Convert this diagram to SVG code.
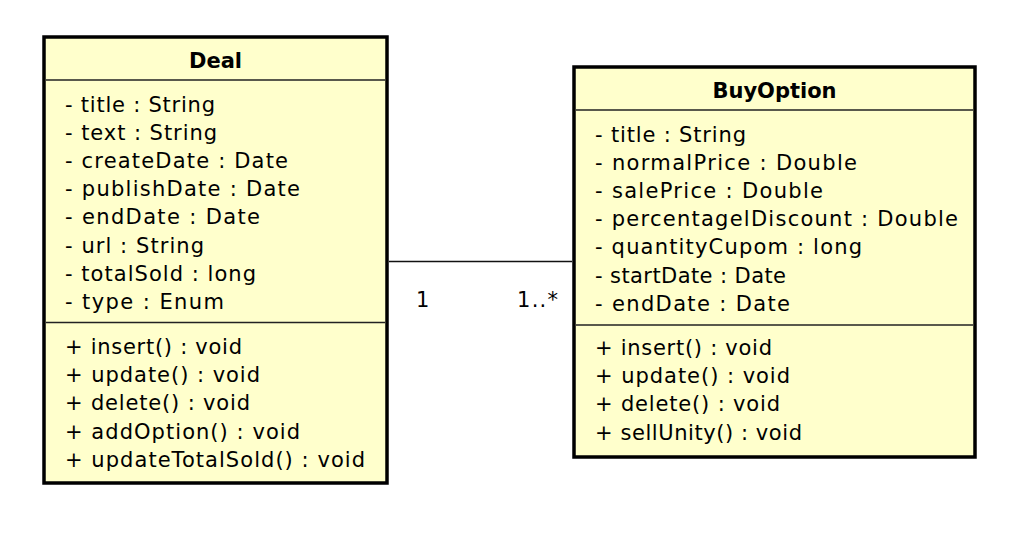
<svg xmlns="http://www.w3.org/2000/svg" width="1020" height="534" viewBox="0 0 1020 534">
<style>
  .box { fill: #ffffcc; stroke: #000; stroke-width: 3.5; }
  .sep { stroke: #222; stroke-width: 1.5; }
  .t { font-family: "DejaVu Sans", "Liberation Sans", sans-serif; font-size: 21px; fill: #000; }
  .h { font-family: "DejaVu Sans", "Liberation Sans", sans-serif; font-size: 21px; font-weight: bold; fill: #000; text-anchor: middle; }
  .conn { stroke: #111; stroke-width: 1.5; fill: none; }
</style>
<rect width="1020" height="534" fill="#ffffff"/>
<g id="connectors">
  <line class="conn" x1="389" y1="261.5" x2="572" y2="261.5"/>
  <text class="t" x="416" y="307">1</text>
  <text class="t" x="517" y="307" textLength="41" lengthAdjust="spacing">1..*</text>
</g>
<g id="Deal">
  <rect class="box" x="44" y="37" width="343" height="446"/>
  <text class="h" x="215.5" y="68">Deal</text>
  <line class="sep" x1="46" y1="80" x2="385" y2="80"/>
  <text class="t" x="65" y="112" textLength="150" lengthAdjust="spacing">- title : String</text>
  <text class="t" x="65" y="140.1" textLength="152" lengthAdjust="spacing">- text : String</text>
  <text class="t" x="65" y="168.2" textLength="223" lengthAdjust="spacing">- createDate : Date</text>
  <text class="t" x="65" y="196.3" textLength="235" lengthAdjust="spacing">- publishDate : Date</text>
  <text class="t" x="65" y="224.4" textLength="195" lengthAdjust="spacing">- endDate : Date</text>
  <text class="t" x="65" y="252.5" textLength="139" lengthAdjust="spacing">- url : String</text>
  <text class="t" x="65" y="280.6" textLength="191" lengthAdjust="spacing">- totalSold : long</text>
  <text class="t" x="65" y="308.7" textLength="159" lengthAdjust="spacing">- type : Enum</text>
  <line class="sep" x1="46" y1="322.5" x2="385" y2="322.5"/>
  <text class="t" x="65" y="354" textLength="177" lengthAdjust="spacing">+ insert() : void</text>
  <text class="t" x="65" y="382.2" textLength="195" lengthAdjust="spacing">+ update() : void</text>
  <text class="t" x="65" y="410.4" textLength="185" lengthAdjust="spacing">+ delete() : void</text>
  <text class="t" x="65" y="438.6" textLength="235" lengthAdjust="spacing">+ addOption() : void</text>
  <text class="t" x="65" y="466.8" textLength="300" lengthAdjust="spacing">+ updateTotalSold() : void</text>
</g>
<g id="BuyOption">
  <rect class="box" x="574" y="67" width="401" height="390"/>
  <text class="h" x="774.5" y="98">BuyOption</text>
  <line class="sep" x1="576" y1="110" x2="973" y2="110"/>
  <text class="t" x="595" y="142" textLength="151" lengthAdjust="spacing">- title : String</text>
  <text class="t" x="595" y="170.1" textLength="262" lengthAdjust="spacing">- normalPrice : Double</text>
  <text class="t" x="595" y="198.2" textLength="228" lengthAdjust="spacing">- salePrice : Double</text>
  <text class="t" x="595" y="226.3" textLength="363" lengthAdjust="spacing">- percentagelDiscount : Double</text>
  <text class="t" x="595" y="254.4" textLength="267" lengthAdjust="spacing">- quantityCupom : long</text>
  <text class="t" x="595" y="282.5" textLength="191" lengthAdjust="spacing">- startDate : Date</text>
  <text class="t" x="595" y="310.6" textLength="195" lengthAdjust="spacing">- endDate : Date</text>
  <line class="sep" x1="576" y1="325" x2="973" y2="325"/>
  <text class="t" x="595" y="355" textLength="177" lengthAdjust="spacing">+ insert() : void</text>
  <text class="t" x="595" y="383.2" textLength="195" lengthAdjust="spacing">+ update() : void</text>
  <text class="t" x="595" y="411.4" textLength="185" lengthAdjust="spacing">+ delete() : void</text>
  <text class="t" x="595" y="439.6" textLength="207" lengthAdjust="spacing">+ sellUnity() : void</text>
</g>
</svg>
